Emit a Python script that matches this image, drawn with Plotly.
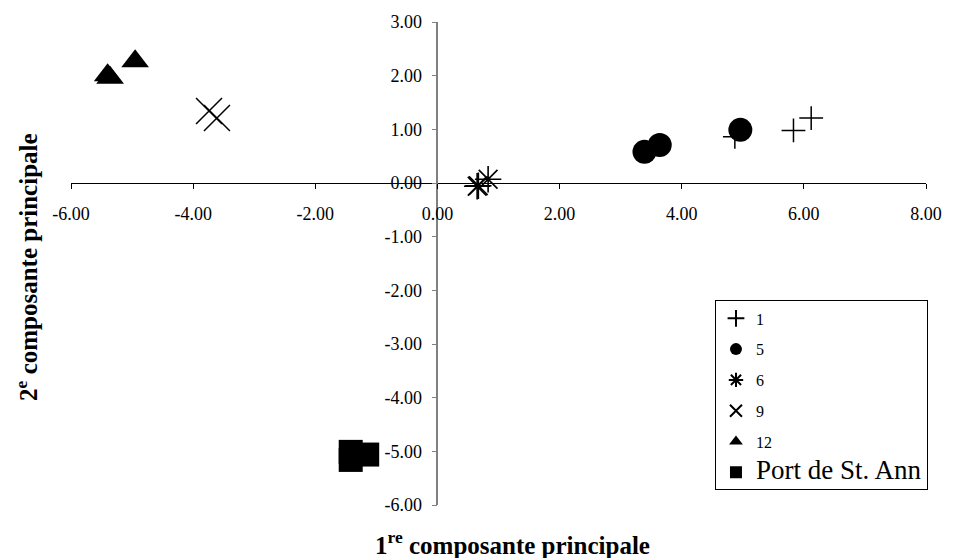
import plotly.graph_objects as go

# ---- data ----
s1_x = [4.87, 5.83, 6.12]
s1_y = [0.86, 0.98, 1.21]
s5_x = [3.39, 3.64, 4.96]
s5_y = [0.58, 0.71, 0.99]
s6_x = [0.65, 0.67, 0.83]
s6_y = [-0.06, -0.05, 0.07]
s9_x = [-3.74, -3.61]
s9_y = [1.34, 1.21]
s12_x = [-5.40, -5.36, -4.95]
s12_y = [2.01, 1.96, 2.27]
port_x = [-1.42, -1.42, -1.15]
port_y = [-5.01, -5.16, -5.06]

x_tickvals = [-6, -4, -2, 0, 2, 4, 6, 8]
x_ticktext = ["-6.00", "-4.00", "-2.00", "0.00", "2.00", "4.00", "6.00", "8.00"]
y_tickvals = [3, 2, 1, 0, -1, -2, -3, -4, -5, -6]
y_ticktext = ["3.00", "2.00", "1.00", "0.00", "-1.00", "-2.00", "-3.00", "-4.00", "-5.00", "-6.00"]

FONT = "Liberation Serif"

W, H = 954, 558
ML, MR, MT, MB = 71, 20, 21, 53
PW, PH = W - ML - MR, H - MT - MB

fig = go.Figure()

def add(name, xs, ys, symbol, size, group, lw=0):
    fig.add_trace(go.Scatter(
        x=xs, y=ys, mode="markers", name=name, legendgroup=group,
        marker=dict(symbol=symbol, size=size, color="black",
                    line=dict(color="black", width=lw)),
    ))

add("1", s1_x, s1_y, "cross-thin", 17, "g1", 1.5)
add("5", s5_x, s5_y, "circle", 24, "g2", 0)
add("6", s6_x, s6_y, "asterisk", 22, "g3", 1.6)
add("9", s9_x, s9_y, "x-thin", 26, "g4", 1.5)
add("12", s12_x, s12_y, "triangle-up", 24, "g5", 0)
add('<span style="font-size:27px">Port de St. Ann</span>', port_x, port_y, "square", 24, "g6", 0)

def px_to_paper_x(px):
    return (px - ML) / PW

def px_to_paper_y(py):
    return (H - MB - py) / PH

fig.update_layout(
    width=W, height=H,
    margin=dict(l=ML, r=MR, t=MT, b=MB),
    paper_bgcolor="white", plot_bgcolor="white",
    font=dict(family=FONT, size=18, color="black"),
    xaxis=dict(
        range=[-6, 8], anchor="free", position=6 / 9,
        showgrid=False, zeroline=False,
        showline=True, linecolor="black", linewidth=1,
        ticks="outside", ticklen=5, tickcolor="black", tickwidth=1,
        tickvals=x_tickvals, ticktext=x_ticktext,
        ticklabelstandoff=9,
        tickfont=dict(family=FONT, size=18, color="black"),
    ),
    yaxis=dict(
        range=[-6, 3], anchor="free", position=6 / 14,
        showgrid=False, zeroline=False,
        showline=True, linecolor="#808080", linewidth=1.5,
        ticks="outside", ticklen=5, tickcolor="#808080", tickwidth=1,
        tickvals=y_tickvals, ticktext=y_ticktext,
        ticklabelstandoff=6,
        tickfont=dict(family=FONT, size=18, color="black"),
    ),
    showlegend=True,
    legend=dict(
        x=px_to_paper_x(721), y=px_to_paper_y(300),
        xanchor="left", yanchor="top",
        bordercolor="black", borderwidth=1, bgcolor="white",
        font=dict(family=FONT, size=16, color="black"),
        traceorder="grouped", tracegroupgap=7,
        itemsizing="constant",
    ),
    annotations=[
        dict(text="<b>1<sup>re</sup> composante principale</b>",
             xref="paper", yref="paper",
             x=px_to_paper_x(517), y=px_to_paper_y(543),
             xanchor="center", yanchor="middle", showarrow=False,
             font=dict(family=FONT, size=25, color="black")),
        dict(text="<b>2<sup>e</sup> composante principale</b>",
             xref="paper", yref="paper",
             x=px_to_paper_x(27), y=px_to_paper_y(266),
             xanchor="center", yanchor="middle", showarrow=False,
             textangle=-90,
             font=dict(family=FONT, size=25, color="black")),
    ],
)

fig.write_html("out.html")
